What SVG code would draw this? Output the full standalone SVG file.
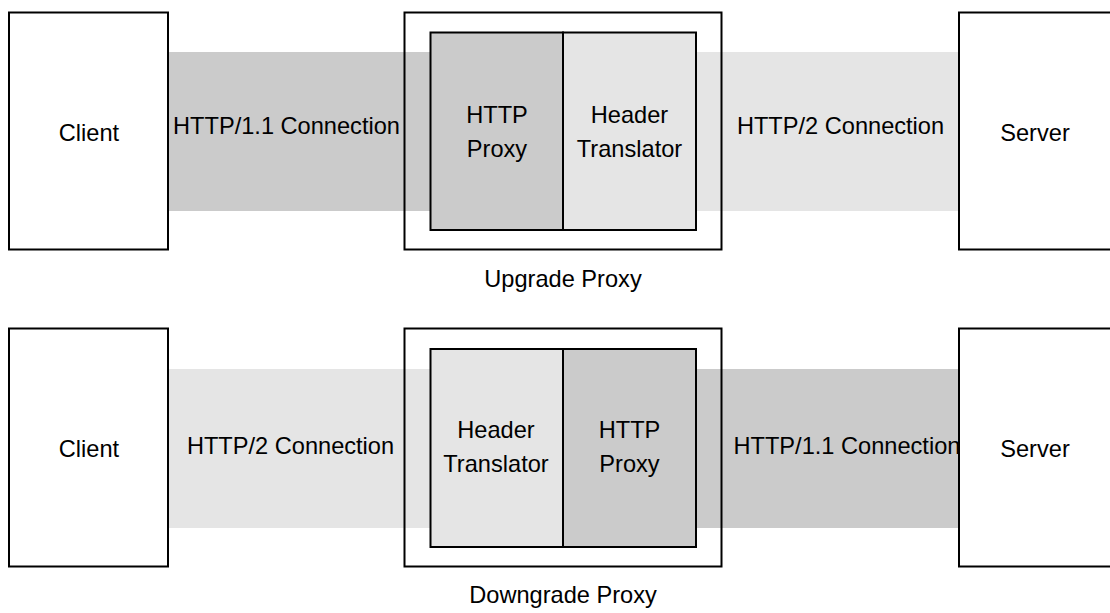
<svg xmlns="http://www.w3.org/2000/svg" width="1110" height="613" viewBox="0 0 1110 613">
  <style>
    .box { fill: #ffffff; stroke: #000000; stroke-width: 2; }
    .frame { fill: none; stroke: #000000; stroke-width: 2; }
    .dark { fill: #cbcbcb; }
    .light { fill: #e5e5e5; }
    .cell-dark { fill: #cbcbcb; stroke: #000000; stroke-width: 2; }
    .cell-light { fill: #e5e5e5; stroke: #000000; stroke-width: 2; }
    text { font-family: "Liberation Sans", Arial, sans-serif; font-size: 23.6px; fill: #000000; }
    .c { text-anchor: middle; }
  </style>
  <rect width="1110" height="613" fill="#ffffff"/>

  <g id="connectors">
    <rect class="dark" x="168" y="52" width="263" height="159"/>
    <rect class="light" x="696" y="52" width="263" height="159"/>
    <text class="c" x="286.5" y="133.5">HTTP/1.1 Connection</text>
    <text class="c" x="840.5" y="133.5">HTTP/2 Connection</text>

    <rect class="light" x="168" y="369" width="263" height="159"/>
    <rect class="dark" x="696" y="369" width="263" height="159"/>
    <text class="c" x="290.5" y="454">HTTP/2 Connection</text>
    <text x="733.5" y="454">HTTP/1.1 Connection</text>
  </g>

  <g id="client-top">
    <rect class="box" x="9" y="12.5" width="159" height="237"/>
    <text class="c" x="89" y="140.5">Client</text>
  </g>
  <g id="upgrade-proxy">
    <rect class="frame" x="404.5" y="12.5" width="317" height="237"/>
    <text class="c" x="563" y="287">Upgrade Proxy</text>
  </g>
  <g id="http-proxy-top">
    <rect class="cell-dark" x="430.5" y="32.5" width="132.5" height="197.5"/>
    <text class="c" x="497" y="122.5">HTTP</text>
    <text class="c" x="497" y="156.5">Proxy</text>
  </g>
  <g id="header-translator-top">
    <rect class="cell-light" x="563" y="32.5" width="133" height="197.5"/>
    <text class="c" x="629.5" y="122.5">Header</text>
    <text class="c" x="629.5" y="156.5">Translator</text>
  </g>
  <g id="server-top">
    <rect class="box" x="959" y="12.5" width="170" height="237"/>
    <text class="c" x="1035" y="140.5">Server</text>
  </g>

  <g id="client-bottom">
    <rect class="box" x="9" y="328.5" width="159" height="238"/>
    <text class="c" x="89" y="456.5">Client</text>
  </g>
  <g id="downgrade-proxy">
    <rect class="frame" x="404.5" y="328.5" width="317" height="238"/>
    <text class="c" x="563" y="603">Downgrade Proxy</text>
  </g>
  <g id="header-translator-bottom">
    <rect class="cell-light" x="430.5" y="349" width="132.5" height="198"/>
    <text class="c" x="496" y="437.5">Header</text>
    <text class="c" x="496" y="472">Translator</text>
  </g>
  <g id="http-proxy-bottom">
    <rect class="cell-dark" x="563" y="349" width="133" height="198"/>
    <text class="c" x="629.5" y="437.5">HTTP</text>
    <text class="c" x="629.5" y="472">Proxy</text>
  </g>
  <g id="server-bottom">
    <rect class="box" x="959" y="328.5" width="170" height="238"/>
    <text class="c" x="1035" y="456.5">Server</text>
  </g>
</svg>
